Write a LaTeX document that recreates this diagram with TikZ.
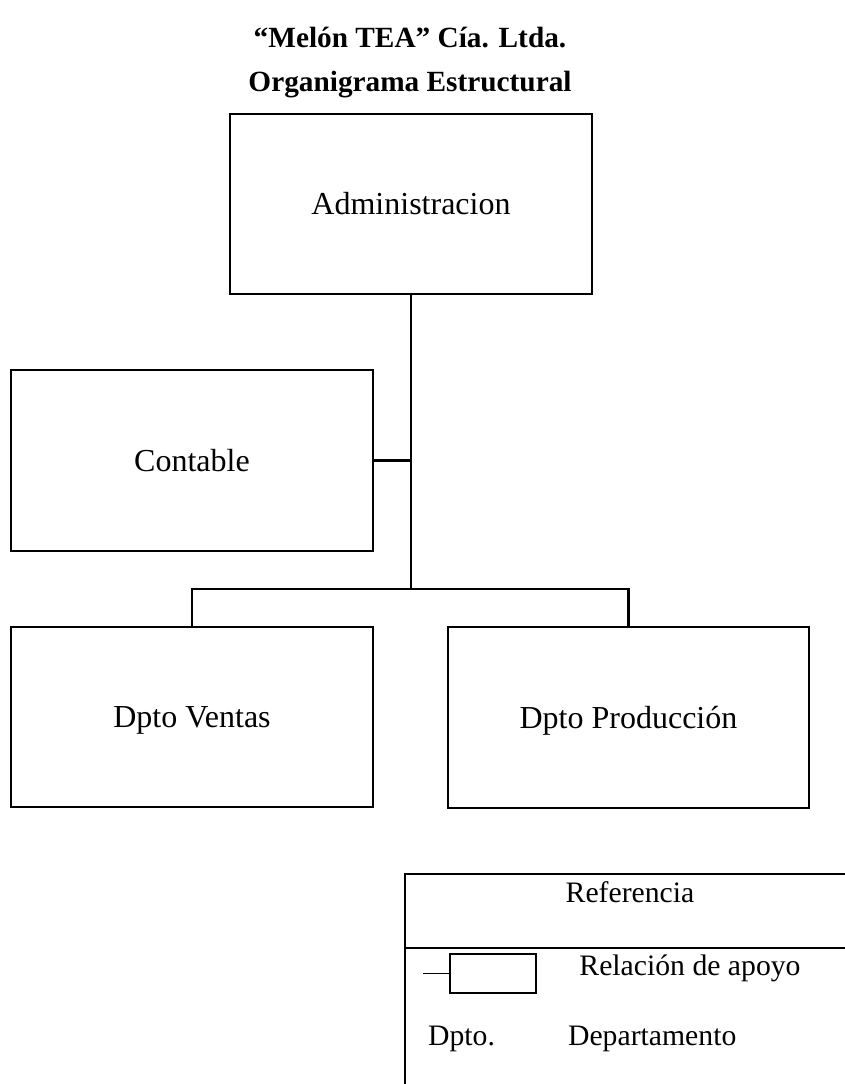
\documentclass[tikz,border=0pt]{standalone}
\usepackage{fontspec}
\setmainfont{Liberation Serif}
\begin{document}
\begin{tikzpicture}[x=1pt,y=-1pt,
  line width=2.2pt,
  unitbox/.style={draw, rectangle, inner sep=0pt, font=\fontsize{32}{36}\selectfont,
    text height=21pt, text depth=0pt},
  titletext/.style={anchor=base, font=\bfseries\fontsize{29.3}{34}\selectfont, inner sep=0pt},
  legtext/.style={anchor=base, font=\fontsize{29.7}{34}\selectfont, inner sep=0pt}]
\useasboundingbox (0,0) rectangle (845,1084);

% headings
\node[titletext] (t1) at (410,47) {“Melón TEA” Cía. Ltda.};
\node[titletext] (t2) at (410,91) {Organigrama Estructural};

% organisation boxes
\node[unitbox, minimum width=362pt, minimum height=180pt] (adm) at (411,204) {Administracion};
\node[unitbox, minimum width=362pt, minimum height=181pt] (cont) at (192,460.5) {Contable};
\node[unitbox, minimum width=362pt, minimum height=180pt] (ven) at (192,717) {Dpto Ventas};
\node[unitbox, minimum width=361pt, minimum height=181pt] (prod) at (628.5,717.5) {Dpto Producción};

% connectors
\coordinate (bus) at (411,589);
\draw (adm.south) -- (bus);
\draw (cont.east) -- (cont.east -| adm.south);
\draw (ven.north) |- (bus) -| (prod.north);

% legend frame
\draw (845,874) -- (405,874) -- (405,1084);
\draw (405,948) -- (845,948);
\node[legtext] (lref) at (630,902) {Referencia};
\node[draw, rectangle, inner sep=0pt, minimum width=86pt, minimum height=39pt] (legbox) at (493,973.5) {};
\draw[line width=1pt] (legbox.west) -- ++(-26,0);
\node[legtext] (lrel) at (690,975) {Relación de apoyo};
\node[legtext, anchor=base west] (ldp) at (427,1045) {Dpto.};
\node[legtext, anchor=base west] (ldep) at (567,1045) {Departamento};
\end{tikzpicture}
\end{document}
